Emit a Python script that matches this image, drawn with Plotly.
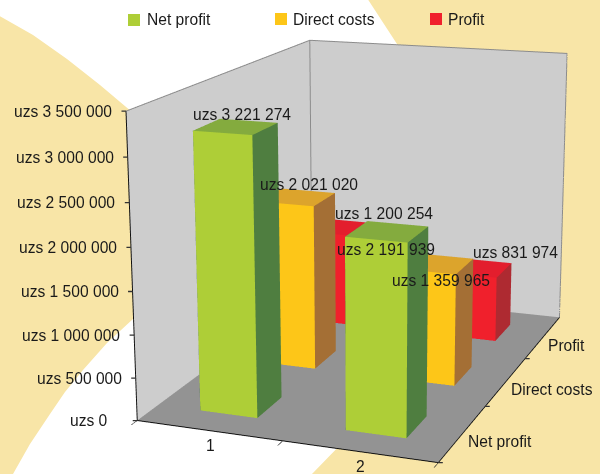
import numpy as np
import plotly.graph_objects as go

# ---------- data ----------
groups = ["1", "2"]
series = ["Net profit", "Direct costs", "Profit"]
net_profit = [3221274, 2191939]
direct_costs = [2021020, 1359965]
profit = [1200254, 831974]
z_ticks = [0, 500000, 1000000, 1500000, 2000000, 2500000, 3000000, 3500000]
z_labels = ["uzs 0", "uzs 500 000", "uzs 1 000 000", "uzs 1 500 000", "uzs 2 000 000",
            "uzs 2 500 000", "uzs 3 000 000", "uzs 3 500 000"]
bar_labels = [["uzs 3 221 274", "uzs 2 191 939"], ["uzs 2 021 020", "uzs 1 359 965"],
              ["uzs 1 200 254", "uzs 831 974"]]
y_ticks = [0.5, 1.5, 2.5, 3.5]
x_ticks = [0.5, 1.5, 2.5]

# ---------- styling ----------
FRONT = ["#AECE37", "#FDC618", "#F0202C"]
SIDE = ["#4F7E40", "#A46F35", "#AE2A31"]
TOP = ["#84AB3E", "#DCA42C", "#E31E2D"]
FONT = "Liberation Sans"
INK = "#1a1a1a"
BEIGE = "#F8E5A7"
HALF = 0.2
# pixel nudges of the bar labels relative to each bar's top (series, group)
LABEL_SHIFT = [[(6.5, 12), (-1, -18)], [(12, 13), (5, -17)], [(35, 15), (38, 15)]]
SWATCH_LEFT = [128, 275, 430]
SWATCH_TOP = [14, 13, 13]
LEGEND_TEXT_LEFT = [147, 293, 448]
LEGEND_TEXT_Y = [20, 19, 20]

# The 45-degree fixed field of view of the 3D scene needs a tall viewport to give the
# reference's weak perspective, so the graph is larger than the window and shifted up.
GW, GH = 640, 1438
LEFT, TOP_OFF = -2, -492
def px(x, y):
    return (x - LEFT) / GW, 1 - (y - TOP_OFF) / GH

# camera (az, el, roll, distance, shifts) and box proportions
az, el, roll, dist, tx, ty = 0.3747, 0.257, -0.0079, 5.8856, 0.1625, 0.0059
aspect = dict(x=1, y=float(np.exp(0.4108)), z=float(np.exp(-0.0019)))
e = np.array([np.cos(el) * np.sin(az), -np.cos(el) * np.cos(az), np.sin(el)])
r = np.cross(-e, [0, 0, 1.0]); r /= np.linalg.norm(r); u = np.cross(r, -e)
r2 = np.cos(roll) * r + np.sin(roll) * u
u2 = -np.sin(roll) * r + np.cos(roll) * u
C = e * dist - tx * r2 - ty * u2
ctr = C - e * dist
vec = lambda v: dict(x=float(v[0]), y=float(v[1]), z=float(v[2]))
camera = dict(eye=vec(C), center=vec(ctr), up=vec(u2), projection=dict(type="perspective"))

XR, YR, ZR = [0.5, 2.5], [0.5, 3.5], [0, 3500000]

def bars(values, sidx):
    xs, ys, zs, ii, jj, kk, cols = [], [], [], [], [], [], []
    for g, v in enumerate(values):
        b = len(xs)
        x0, x1 = g + 1 - HALF, g + 1 + HALF
        y0, y1 = sidx + 1 - HALF, sidx + 1 + HALF
        xs += [x0, x1, x1, x0, x0, x1, x1, x0]
        ys += [y0, y0, y1, y1, y0, y0, y1, y1]
        zs += [0, 0, 0, 0, v, v, v, v]
        faces = [((0, 1, 5), FRONT), ((0, 5, 4), FRONT), ((1, 2, 6), SIDE), ((1, 6, 5), SIDE),
                 ((4, 5, 6), TOP), ((4, 6, 7), TOP), ((3, 2, 6), SIDE), ((3, 6, 7), SIDE),
                 ((0, 3, 7), SIDE), ((0, 7, 4), SIDE)]
        for (a, c, d), col in faces:
            ii.append(b + a); jj.append(b + c); kk.append(b + d); cols.append(col[sidx])
    return xs, ys, zs, ii, jj, kk, cols

fig = go.Figure()
for s, vals in enumerate([net_profit, direct_costs, profit]):
    xs, ys, zs, ii, jj, kk, cols = bars(vals, s)
    fig.add_trace(go.Mesh3d(x=xs, y=ys, z=zs, i=ii, j=jj, k=kk, facecolor=cols, name=series[s],
                            flatshading=True, hoverinfo="skip", showlegend=False,
                            lighting=dict(ambient=1, diffuse=0, specular=0, roughness=1, fresnel=0)))

# wall borders, lifted a hair off the walls so they are not lost in the depth test
xin, yin = XR[0] + 0.004, YR[1] - 0.004
fig.add_trace(go.Scatter3d(
    x=[XR[0], xin, XR[1], XR[1], None, xin, xin],
    y=[YR[0], yin, yin, yin, None, yin, yin],
    z=[ZR[1], ZR[1], ZR[1], ZR[0], None, ZR[0], ZR[1]],
    mode="lines", line=dict(color="#8c8c8c", width=2), showlegend=False, hoverinfo="skip"))

ann = []
for v, t in zip(z_ticks, z_labels):
    ann.append(dict(x=XR[0], y=YR[0], z=v, text=t, xanchor="right", yanchor="middle",
                    xshift=-27 if v == 0 else -12, yshift=0, showarrow=False,
                    font=dict(family=FONT, size=15.6, color=INK)))
for i, g in enumerate(groups):
    ann.append(dict(x=i + 1, y=YR[0], z=0, text=g, xanchor="center", yanchor="middle", xshift=1.5, yshift=-15,
                    showarrow=False, font=dict(family=FONT, size=15.6, color=INK)))
for i, t in enumerate(series):
    ann.append(dict(x=XR[1], y=i + 1, z=0, text=t, xanchor="left", yanchor="middle", xshift=3, yshift=-8,
                    showarrow=False, font=dict(family=FONT, size=15.6, color=INK)))
for s, vals in enumerate([net_profit, direct_costs, profit]):
    for g, v in enumerate(vals):
        dx, dy = LABEL_SHIFT[s][g]
        ann.append(dict(x=g + 1, y=s + 1, z=v, text=bar_labels[s][g], xanchor="center", yanchor="middle",
                        xshift=dx, yshift=dy, showarrow=False, font=dict(family=FONT, size=15.6, color=INK)))
# tick marks that stand outside the scene box: headless annotation arrows
tick = dict(text=" ", showarrow=True, arrowhead=0, arrowwidth=1.3, arrowcolor="#333333", ay=0,
            standoff=0, startstandoff=0, font=dict(size=1), xanchor="center", yanchor="middle")
for v in z_ticks:
    ann.append(dict(tick, x=XR[0], y=YR[0], z=v, ax=-6))
for v in y_ticks:
    ann.append(dict(tick, x=XR[1], y=v, z=0, ax=6))

axis = dict(showgrid=False, zeroline=False, showspikes=False, showticklabels=False, title="",
            showbackground=True, showline=True, linecolor="#111111", linewidth=2)

def path(points):
    parts = []
    for i, (x, y) in enumerate(points):
        a, b = px(x, y)
        parts.append(("M" if i == 0 else "L") + f"{a:.5f},{b:.5f}")
    return " ".join(parts) + " Z"

left_band = [(-2, 15), (33, 35), (67, 59), (100, 85), (132, 112), (180, 200), (133, 319), (107, 343),
             (83, 370), (65, 392), (50, 414), (30, 444), (13, 474), (-2, 474)]
right_band = [(367, -2), (397, 44), (450, 200), (345, 440), (312, 474), (602, 474), (602, -2)]
shapes = [dict(type="path", xref="paper", yref="paper", path=path(p), fillcolor=BEIGE, line_width=0, layer="below")
          for p in (left_band, right_band)]

# legend: swatches and labels
paper_ann = []
for s, name in enumerate(series):
    x0, y0 = px(SWATCH_LEFT[s], SWATCH_TOP[s] + 12)
    x1, y1 = px(SWATCH_LEFT[s] + 12, SWATCH_TOP[s])
    shapes.append(dict(type="rect", xref="paper", yref="paper", x0=x0, y0=y0, x1=x1, y1=y1,
                       fillcolor=FRONT[s], line_width=0, layer="below"))
    tx0, ty0 = px(LEGEND_TEXT_LEFT[s], LEGEND_TEXT_Y[s])
    paper_ann.append(dict(xref="paper", yref="paper", x=tx0, y=ty0, text=name, xanchor="left", yanchor="middle",
                          showarrow=False, xshift=-2, font=dict(family=FONT, size=15.6, color=INK)))

fig.update_layout(
    width=GW, height=GH, margin=dict(l=0, r=0, t=0, b=0, pad=0), autosize=False,
    paper_bgcolor="white", shapes=shapes, annotations=paper_ann, showlegend=False,
    scene=dict(domain=dict(x=[0, 1], y=[0, 1]), bgcolor="rgba(0,0,0,0)", camera=camera,
               aspectmode="manual", aspectratio=aspect, annotations=ann, dragmode=False,
               xaxis=dict(axis, range=XR, tickmode="array", tickvals=x_ticks, backgroundcolor="#CDCDCD",
                          ticks="outside", ticklen=6, tickwidth=1.5, tickcolor="#222222"),
               yaxis=dict(axis, range=YR, tickmode="array", tickvals=y_ticks, backgroundcolor="#CDCDCD", ticks=""),
               zaxis=dict(axis, range=ZR, tickmode="array", tickvals=z_ticks, backgroundcolor="#939393", ticks="")),
)
post = f"""
document.documentElement.style.overflow='hidden';
document.body.style.margin='0';document.body.style.overflow='hidden';
var g=document.querySelector('.plotly-graph-div');
g.style.position='absolute';g.style.left='{LEFT}px';g.style.top='{TOP_OFF}px';
"""
fig.write_html("out.html", post_script=post, config=dict(displayModeBar=False))
